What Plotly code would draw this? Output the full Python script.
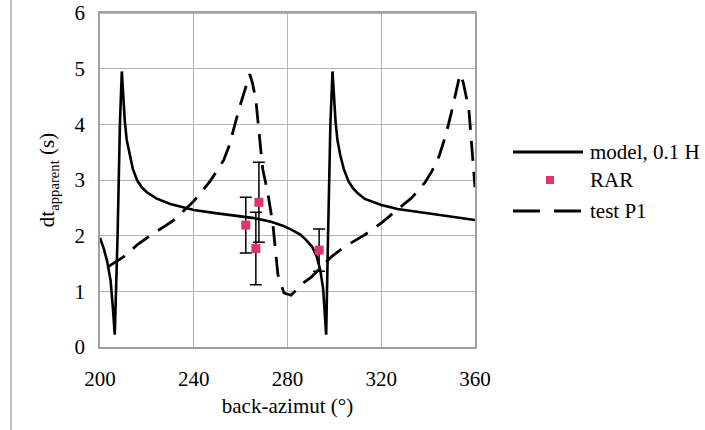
import plotly.graph_objects as go

# ---- data ----
model_x = [200, 201.5, 203, 204.5, 205.5, 206.3, 207.5, 208.5, 209.3, 209.9, 210.6, 211.4, 212.6, 214, 216,
           218, 220, 224, 230, 240, 250, 256, 265, 273, 278, 282, 285.5, 288, 290.5, 292.5, 294, 295.2,
           295.9, 296.5, 297.3, 298.3, 299.2, 299.8, 300.5, 301.3, 302.5, 304, 306, 308, 310, 313, 320,
           327, 335, 346, 355, 360]
model_y = [1.96, 1.78, 1.55, 1.2, 0.7, 0.22, 2.0, 4.0, 4.95, 4.5, 4.05, 3.72, 3.45, 3.2, 2.98,
           2.86, 2.78, 2.67, 2.57, 2.46, 2.4, 2.37, 2.32, 2.25, 2.18, 2.1, 2.02, 1.92, 1.8, 1.62, 1.38, 1.05,
           0.6, 0.22, 2.0, 4.0, 4.95, 4.5, 4.05, 3.72, 3.45, 3.2, 2.98, 2.85, 2.76, 2.66, 2.55,
           2.48, 2.43, 2.37, 2.31, 2.28]

test_x = [203.4, 210, 216.3, 222, 228, 232.2, 236.5, 240, 243, 247, 250, 252.8, 255, 257.1, 259.5, 262.2,
          263.9, 265, 266.5, 268.6, 269.5, 271.6, 273.8, 275.9, 278.5, 281.5, 284, 286.7, 290, 293.1,
          298.7, 304.2, 312.8, 320.1, 326.6, 333, 338.6, 341.5, 344.6, 347.5, 350.2, 352.3, 353.6, 355,
          357.4, 359, 360]
test_y = [1.44, 1.62, 1.85, 2.02, 2.18, 2.3, 2.48, 2.62, 2.77, 2.98, 3.17, 3.36, 3.6, 3.95, 4.3, 4.67,
          4.9, 4.75, 4.44, 3.54, 3.18, 2.77, 2.19, 1.3, 0.97, 0.93, 1.03, 1.15, 1.25, 1.38,
          1.62, 1.8, 2.01, 2.23, 2.46, 2.68, 2.95, 3.15, 3.42, 3.8, 4.26, 4.65, 4.9, 4.75,
          4.26, 3.4, 2.87]

rar_x = [262.2, 267.8, 266.5, 293.5]
rar_y = [2.19, 2.6, 1.77, 1.74]
rar_err = [0.5, 0.72, 0.65, 0.38]

x_ticks = [200, 240, 280, 320, 360]
y_ticks = [0, 1, 2, 3, 4, 5, 6]

legend_labels = ["model, 0.1 H", "RAR", "test P1"]

FONT = "Liberation Serif, Times New Roman, serif"
RAR_COLOR = "#E2336B"
FRAME = "#a0a0a0"

fig = go.Figure()
fig.add_trace(go.Scatter(x=model_x, y=model_y, mode="lines", name=legend_labels[0],
                         line=dict(color="black", width=2.6), showlegend=False))
fig.add_trace(go.Scatter(x=test_x, y=test_y, mode="lines", name=legend_labels[2],
                         line=dict(color="black", width=2.8, dash="20px,11px"), showlegend=False))
fig.add_trace(go.Scatter(x=rar_x, y=rar_y, mode="markers", name=legend_labels[1],
                         marker=dict(symbol="square", size=9, color=RAR_COLOR),
                         error_y=dict(type="data", array=rar_err, visible=True, color="black",
                                      thickness=1.5, width=6),
                         showlegend=False))

W, H = 705, 430
L, T = 100, 13
pw, ph = 375, 334
R, B = W - L - pw, H - T - ph


def px(xp):
    return (xp - L) / pw


def py(yp):
    return (H - B - yp) / ph


shapes = []
shapes.append(dict(type="line", xref="paper", yref="paper", x0=px(11), x1=px(11), y0=py(0), y1=py(430),
                   line=dict(color="#a8a8a8", width=1.5)))
# top edge of the plot frame
shapes.append(dict(type="line", xref="paper", yref="paper", x0=0, x1=1, y0=1, y1=1, layer="above",
                   line=dict(color=FRAME, width=1.5)))
shapes.append(dict(type="line", xref="paper", yref="paper", x0=px(513), x1=px(583), y0=py(152), y1=py(152),
                   line=dict(color="black", width=2.8)))
shapes.append(dict(type="rect", xref="paper", yref="paper", x0=px(546), x1=px(554), y0=py(184), y1=py(176),
                   fillcolor=RAR_COLOR, line=dict(width=0)))
shapes.append(dict(type="line", xref="paper", yref="paper", x0=px(513), x1=px(581), y0=py(211), y1=py(211),
                   line=dict(color="black", width=2.8, dash="27px,14px")))

annotations = []
for lbl, yp in zip(legend_labels, [152, 180, 211]):
    annotations.append(dict(text=lbl, xref="paper", yref="paper", x=px(588), y=py(yp), xanchor="left",
                            yanchor="middle", showarrow=False, font=dict(family=FONT, size=21, color="black")))

fig.update_layout(
    width=W, height=H,
    margin=dict(l=L, r=R, t=T, b=B, autoexpand=False),
    paper_bgcolor="white", plot_bgcolor="white",
    font=dict(family=FONT, size=21, color="black"),
    shapes=shapes, annotations=annotations,
    showlegend=False,
)
fig.update_xaxes(range=[200, 360], tickvals=x_ticks, ticktext=[str(v) for v in x_ticks],
                 showgrid=True, gridcolor="#b4b4b4", gridwidth=1,
                 showline=True, linecolor=FRAME, linewidth=1.5, mirror=True,
                 ticks="", ticklabelstandoff=12, zeroline=False, automargin=False,
                 ticklabeloverflow="allow",
                 title=dict(text="back-azimut (°)", standoff=8, font=dict(family=FONT, size=21)))
fig.update_yaxes(range=[0, 6], tickvals=y_ticks, ticktext=[str(v) for v in y_ticks],
                 showgrid=True, gridcolor="#b4b4b4", gridwidth=1,
                 showline=True, linecolor=FRAME, linewidth=1.5, mirror=True,
                 ticks="", ticklabelstandoff=9, zeroline=False, automargin=False,
                 ticklabeloverflow="allow",
                 title=dict(text="dt<sub>apparent</sub> (s)", standoff=14, font=dict(family=FONT, size=21)))

# remove the browser's default 8px body margin so the figure fills the window exactly
fig.write_html("out.html", config={"displayModeBar": False},
               post_script="document.body.style.margin='0';document.body.style.overflow='hidden';")
